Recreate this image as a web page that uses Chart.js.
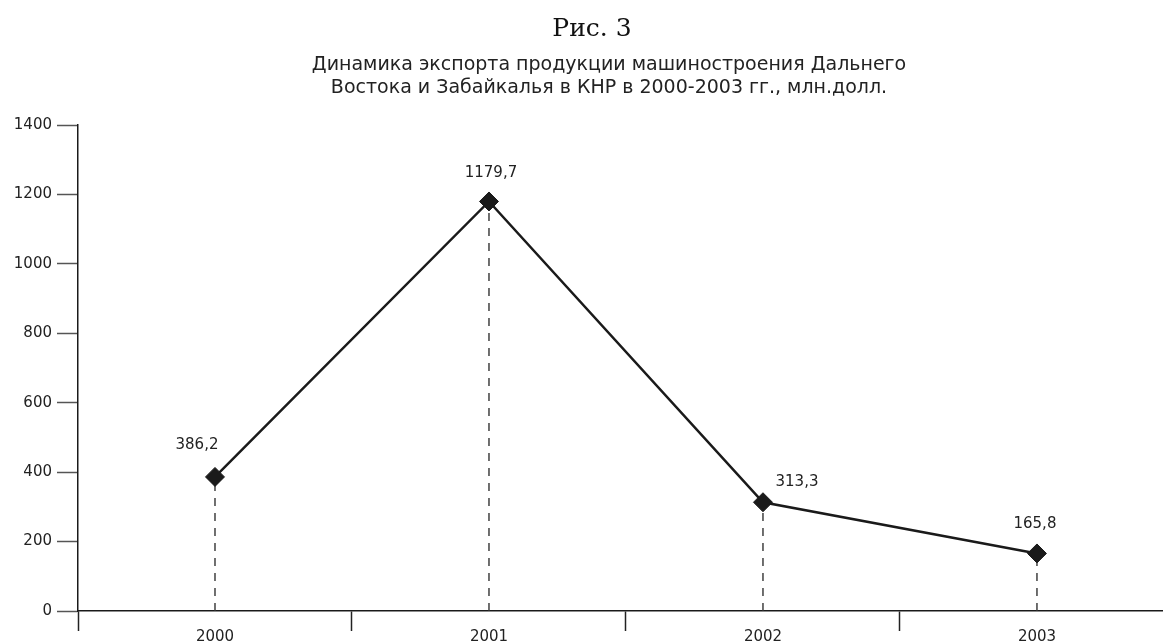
<!DOCTYPE html>
<html>
<head>
<meta charset="utf-8">
<script src="https://cdn.jsdelivr.net/npm/chart.js@4/dist/chart.umd.min.js"></script>
<style>
  html, body { margin: 0; padding: 0; background: #fff; }
  #wrap { width: 1163px; height: 644px; }
</style>
</head>
<body>
<div id="wrap"><canvas id="exportChart"></canvas></div>
<script>
// data
const years = ['2000', '2001', '2002', '2003'];
const exportValues = [386.2, 1179.7, 313.3, 165.8];
const valueLabels = ['386,2', '1179,7', '313,3', '165,8'];
const yTicks = [0, 200, 400, 600, 800, 1000, 1200, 1400];
const figTitle = 'Рис. 3';
const figSubtitle = ['Динамика экспорта продукции машиностроения Дальнего',
                     'Востока и Забайкалья в КНР в 2000-2003 гг., млн.долл.'];

// where each value label sits relative to its marker (px)
const labelOffsets = [[-18, -32], [2, -28], [34, -20], [-2, -29]];

const ink = '#1a1a1a';
const sans = "'DejaVu Sans', 'Open Sans', sans-serif";
const tickFont = { family: sans, size: 15 };

const mainPoints = exportValues.map((v, i) => ({ x: i, y: v }));

// dashed drop lines from each marker down to the axis
const dropSets = exportValues.map((v, i) => ({
  data: [{ x: i, y: 0 }, { x: i, y: v }],
  borderColor: '#333',
  borderWidth: 1.4,
  borderDash: [8, 7],
  pointRadius: 0,
  fill: false
}));

// heading drawn by hand so each line can sit where it does in the figure
const headingPlugin = {
  id: 'heading',
  afterDraw(chart) {
    const ctx = chart.ctx;
    ctx.save();
    ctx.fillStyle = '#111';
    ctx.textAlign = 'center';
    ctx.textBaseline = 'alphabetic';
    ctx.font = "25px 'DejaVu Serif', 'Liberation Serif', serif";
    ctx.fillText(figTitle, 592, 36);
    ctx.fillStyle = '#222';
    ctx.font = "19px " + sans;
    ctx.fillText(figSubtitle[0], 609, 70);
    ctx.fillText(figSubtitle[1], 609, 93);
    ctx.restore();
  }
};

const valueLabelPlugin = {
  id: 'valueLabels',
  afterDatasetsDraw(chart) {
    const ctx = chart.ctx;
    const meta = chart.getDatasetMeta(0);
    ctx.save();
    ctx.font = "15px " + sans;
    ctx.fillStyle = '#222';
    ctx.textAlign = 'center';
    ctx.textBaseline = 'middle';
    meta.data.forEach((pt, i) => {
      ctx.fillText(valueLabels[i], pt.x + labelOffsets[i][0], pt.y + labelOffsets[i][1]);
    });
    ctx.restore();
  }
};

new Chart(document.getElementById('exportChart'), {
  type: 'line',
  data: {
    datasets: [{
      data: mainPoints,
      borderColor: ink,
      borderWidth: 2.5,
      pointStyle: 'rectRot',
      pointRadius: 9.5,
      pointHoverRadius: 9.5,
      pointBackgroundColor: ink,
      pointBorderColor: ink,
      pointBorderWidth: 1,
      tension: 0,
      fill: false
    }, ...dropSets]
  },
  options: {
    responsive: true,
    maintainAspectRatio: false,
    animation: false,
    layout: { autoPadding: false, padding: { left: 0, right: 0, top: 125, bottom: 0 } },
    plugins: {
      legend: { display: false },
      tooltip: { enabled: false },
      title: { display: false }
    },
    scales: {
      x: {
        type: 'linear',
        min: -0.5,
        max: 3.46,
        afterBuildTicks: (scale) => {
          scale.ticks = [-0.5, 0, 0.5, 1, 1.5, 2, 2.5, 3].map(v => ({ value: v }));
        },
        afterFit: (scale) => {
          scale.height = 33;
          scale.paddingLeft = 0;
          scale.paddingRight = 0;
        },
        border: { display: true, color: ink, width: 1.5 },
        grid: {
          drawOnChartArea: false,
          tickLength: 20,
          tickWidth: 1.5,
          tickColor: (c) => Number.isInteger(c.tick && c.tick.value) ? 'rgba(0,0,0,0)' : '#222'
        },
        ticks: {
          autoSkip: false,
          maxRotation: 0,
          padding: -3,
          color: '#222',
          font: tickFont,
          callback: (v) => Number.isInteger(v) ? years[v] : ''
        }
      },
      y: {
        min: 0,
        max: 1400,
        afterBuildTicks: (scale) => {
          scale.ticks = yTicks.map(v => ({ value: v }));
        },
        afterFit: (scale) => { scale.width = 78; },
        border: { display: true, color: ink, width: 1.5 },
        grid: {
          drawOnChartArea: false,
          tickLength: 21,
          tickWidth: 1.5,
          tickColor: '#555'
        },
        ticks: {
          padding: 5,
          color: '#222',
          font: tickFont,
          callback: (v) => String(v)
        }
      }
    }
  },
  plugins: [valueLabelPlugin, headingPlugin]
});
</script>
</body>
</html>
